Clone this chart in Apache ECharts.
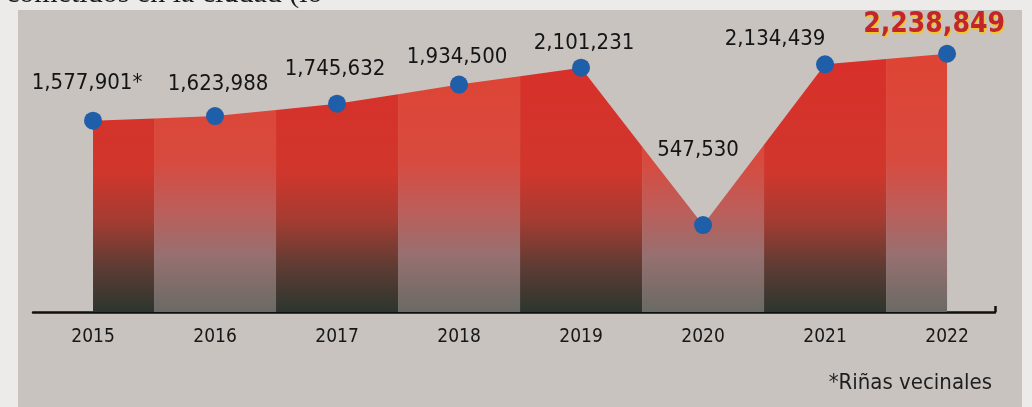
<!DOCTYPE html>
<html>
<head>
<meta charset="utf-8">
<script src="https://cdn.jsdelivr.net/npm/echarts@6/dist/echarts.min.js"></script>
<style>
html,body{margin:0;padding:0;background:#ecebe9;}
#c{width:1032px;height:407px;}
</style>
</head>
<body>
<div id="c"></div>
<script>
// ---- data ----
const years = [2015, 2016, 2017, 2018, 2019, 2020, 2021, 2022];
const values = [1577901, 1623988, 1745632, 1934500, 2101231, 547530, 2134439, 2238849];
const valueLabels = ['1,577,901*', '1,623,988', '1,745,632', '1,934,500', '2,101,231', '547,530', '2,134,439', '2,238,849'];
const yearLabels = ['2015', '2016', '2017', '2018', '2019', '2020', '2021', '2022'];
const footnote = '*Riñas vecinales';
const topText = 'cometidos en la ciudad (lo';

// ---- styling (not data) ----
const labelOffsets = [[-6, -37], [3, -32], [-2, -34], [-2, -27], [3, -24], [-5, -75], [-50, -25], [-13, -29]];
const X_MIN = 2014.508, X_MAX = 2022.393;
const Y_MIN = -310000, Y_MAX = 2500000;
const narrow = '"DejaVu Sans Condensed", "Liberation Sans Narrow", "Roboto", sans-serif';

const darkStops = [
  {offset: 0, color: '#d8302a'},
  {offset: 0.45, color: '#d0362c'},
  {offset: 0.64, color: '#a43c32'},
  {offset: 0.82, color: '#5e3c34'},
  {offset: 1, color: '#2c362e'}
];
const lightStops = [
  {offset: 0, color: '#de4434'},
  {offset: 0.4, color: '#d84a3e'},
  {offset: 0.6, color: '#bc5e5a'},
  {offset: 0.78, color: '#967070'},
  {offset: 1, color: '#6a6a64'}
];

const chart = echarts.init(document.getElementById('c'), null, {renderer: 'canvas'});

function renderBand(params, api) {
  const i = params.dataIndex;
  const n = years.length;
  const c = api.coord([years[i], values[i]]);
  let left, right;
  if (i > 0) {
    const p = api.coord([years[i - 1], values[i - 1]]);
    left = [(p[0] + c[0]) / 2, (p[1] + c[1]) / 2];
  } else left = c;
  if (i < n - 1) {
    const q = api.coord([years[i + 1], values[i + 1]]);
    right = [(q[0] + c[0]) / 2, (q[1] + c[1]) / 2];
  } else right = c;
  const bottom = api.coord([years[i], Y_MIN])[1];
  const top = api.coord([years[i], 2200000])[1];
  const pts = [left, c, right, [right[0], bottom], [left[0], bottom]];
  const fill = new echarts.graphic.LinearGradient(0, top, 0, bottom, i % 2 === 0 ? darkStops : lightStops, true);
  return {type: 'polygon', shape: {points: pts}, style: {fill: fill}};
}

const scatterData = years.map((y, i) => {
  const last = i === years.length - 1;
  return {
    value: [y, values[i]],
    label: {
      show: true,
      position: 'inside',
      offset: labelOffsets[i],
      formatter: valueLabels[i],
      fontFamily: last ? '"DejaVu Sans Condensed", "Liberation Sans", sans-serif' : narrow,
      fontSize: last ? 28 : 22,
      fontWeight: last ? 'bold' : 'normal',
      color: last ? '#c2262c' : '#141414',
      textShadowColor: last ? '#f2c521' : 'transparent',
      textShadowOffsetX: last ? 1 : 0,
      textShadowOffsetY: last ? 2 : 0,
      textShadowBlur: last ? 1 : 0
    }
  };
});

const option = {
  backgroundColor: '#ecebe9',
  animation: false,
  graphic: [
    {type: 'rect', shape: {x: 18, y: 10, width: 1004, height: 400}, style: {fill: '#c9c3bf'}, z: -10},
    {type: 'text', left: 6, top: -21, style: {text: topText, font: '30px "Liberation Serif", serif', fill: '#1a1a1a'}, z: -5},
    {type: 'text', right: 40, top: 372, style: {text: footnote, font: '22px ' + narrow, fill: '#1e1e1e'}}
  ],
  grid: {left: 33, right: 37, top: 27.3, bottom: 95},
  xAxis: {
    type: 'value',
    min: X_MIN,
    max: X_MAX,
    splitLine: {show: false},
    axisLine: {show: true, onZero: false, lineStyle: {color: '#111', width: 2.5}},
    axisTick: {show: true, inside: true, length: 6, customValues: [X_MAX], lineStyle: {color: '#111', width: 2.5}},
    axisLabel: {
      show: true,
      customValues: years,
      formatter: (v) => yearLabels[years.indexOf(Math.round(v))] || '',
      margin: 16,
      fontFamily: narrow,
      fontSize: 19,
      color: '#161616'
    }
  },
  yAxis: {
    type: 'value',
    min: Y_MIN,
    max: Y_MAX,
    show: false,
    splitLine: {show: false}
  },
  series: [
    {
      type: 'custom',
      renderItem: renderBand,
      data: years.map((y, i) => [y, values[i]]),
      encode: {x: 0, y: 1},
      z: 1,
      silent: true
    },
    {
      type: 'scatter',
      data: scatterData,
      symbol: 'circle',
      symbolSize: 18,
      itemStyle: {color: '#1f5ea8', opacity: 1},
      z: 5
    }
  ]
};
chart.setOption(option);
</script>
</body>
</html>
